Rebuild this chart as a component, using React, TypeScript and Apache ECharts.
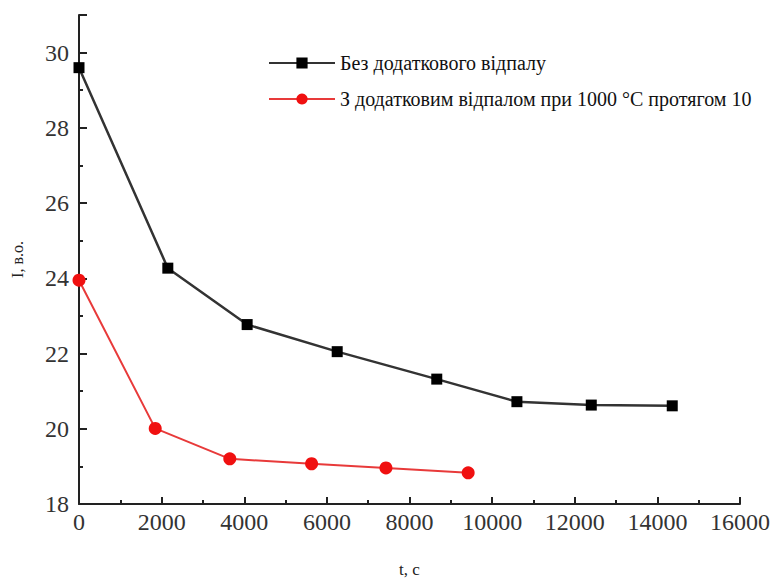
import React, { useEffect, useRef } from "react";
import * as echarts from "echarts";

const seriesNames = [
  "Без додаткового відпалу",
  "З додатковим відпалом при 1000 °С протягом 10",
];
const blackX = [0, 2150, 4070, 6250, 8660, 10600, 12400, 14360];
const blackY = [29.6, 24.27, 22.77, 22.05, 21.32, 20.72, 20.63, 20.61];
const redX = [0, 1845, 3650, 5630, 7430, 9420];
const redY = [23.95, 20.01, 19.2, 19.07, 18.96, 18.83];
const xTitle = "t, с";
const yTitle = "I, в.о.";

const FONT = "'Liberation Serif', 'DejaVu Serif', serif";

export default function App() {
  const ref = useRef<HTMLDivElement>(null);
  useEffect(() => {
    if (!ref.current) return;
    const chart = echarts.init(ref.current, undefined, { renderer: "svg" });
    const grid = { left: 79, right: 34, top: 15, bottom: 74 };
    chart.setOption({
      animation: false,
      backgroundColor: "#fff",
      grid,
      legend: {
        orient: "vertical",
        left: 263,
        top: 48,
        itemWidth: 66,
        itemHeight: 14,
        itemGap: 16,
        textStyle: { fontFamily: FONT, fontSize: 20, color: "#111" },
        data: seriesNames,
      },
      xAxis: {
        type: "value",
        min: 0,
        max: 16000,
        interval: 2000,
        name: xTitle,
        nameLocation: "middle",
        nameGap: 57,
        nameTextStyle: { fontFamily: FONT, fontSize: 17, color: "#222" },
        axisLine: { lineStyle: { color: "#222", width: 2 } },
        axisTick: { inside: true, length: 7, lineStyle: { color: "#222", width: 2 } },
        minorTick: { show: true, splitNumber: 2, length: 4, lineStyle: { color: "#222", width: 2 } },
        splitLine: { show: false },
        axisLabel: {
          fontFamily: FONT,
          fontSize: 24,
          color: "#333",
          margin: 6,
          formatter: (v: number) => String(v),
        },
      },
      yAxis: [
        {
          type: "value",
          min: 18,
          max: 31,
          interval: 2,
          position: "left",
          name: yTitle,
          nameLocation: "middle",
          nameRotate: 90,
          nameGap: 54,
          nameTextStyle: { fontFamily: FONT, fontSize: 16, color: "#222" },
          axisLine: { show: true, lineStyle: { color: "#222", width: 2 } },
          axisTick: { inside: true, length: 8, lineStyle: { color: "#222", width: 2 } },
          splitLine: { show: false },
          axisLabel: {
            fontFamily: FONT,
            fontSize: 24,
            color: "#333",
            margin: 10,
            formatter: (v: number) => (v % 2 === 0 ? String(v) : ""),
          },
        },
        {
          type: "value",
          min: 18,
          max: 31,
          interval: 1,
          position: "left",
          axisLine: { show: false },
          axisTick: { inside: true, length: 4, lineStyle: { color: "#222", width: 2 } },
          splitLine: { show: false },
          axisLabel: { show: false },
        },
      ],
      series: [
        {
          name: seriesNames[0],
          type: "line",
          data: blackX.map((x, i) => [x, blackY[i]]),
          symbol: "rect",
          symbolSize: 11,
          itemStyle: { color: "#000" },
          lineStyle: { color: "#333", width: 2.5 },
        },
        {
          name: seriesNames[1],
          type: "line",
          data: redX.map((x, i) => [x, redY[i]]),
          symbol: "circle",
          symbolSize: 13,
          itemStyle: { color: "#f01010" },
          lineStyle: { color: "#e83a3a", width: 2 },
        },
      ],
    });
    return () => chart.dispose();
  }, []);
  return <div ref={ref} style={{ width: 774, height: 583, position: "absolute", left: 0, top: 0 }} />;
}
